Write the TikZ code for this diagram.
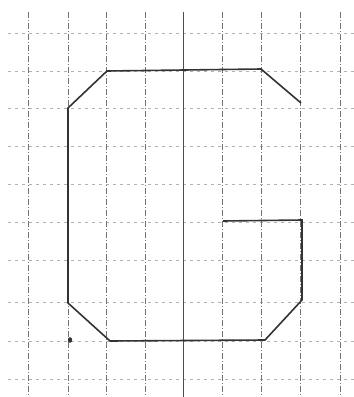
\documentclass[tikz,border=0pt]{standalone}
\begin{document}
\begin{tikzpicture}[x=1pt,y=-1pt,
  vgrid/.style={draw=black!55,line width=0.6pt,dash pattern=on 6pt off 2pt on 1pt off 2pt},
  vmain/.style={draw=black!70,line width=0.8pt},
  hgrid/.style={draw=black!30,line width=0.5pt,dash pattern=on 3pt off 4pt},
  outline/.style={draw=black!80,line width=1.6pt,line join=miter}]
\useasboundingbox (0,0) rectangle (354,397);
% horizontal grid
\foreach \y in {33,71,108,146,184,222,260,302,341,379}
  \draw[hgrid] (8,\y) -- (354,\y);
% vertical grid
\foreach \x in {28,68,106,145,222,261,300,340}
  \draw[vgrid] (\x,12) -- (\x,397);
\draw[vmain] (183,12) -- (183,397);
% letter G outline
\coordinate (a) at (301,103);
\coordinate (b) at (261,69);
\coordinate (c) at (107,71);
\coordinate (d) at (68,108);
\coordinate (e) at (68,303);
\coordinate (f) at (110,341);
\coordinate (g) at (265,340);
\coordinate (h) at (302,300);
\coordinate (i) at (302,220);
\coordinate (j) at (223,221);
\draw[outline] (a) -- (b) -- (c) -- (d) -- (e) -- (f) -- (g) -- (h) -- (i) -- (j);
% dot
\fill[black!80] (70,340) ellipse (2.2pt and 2.8pt);
\end{tikzpicture}
\end{document}
